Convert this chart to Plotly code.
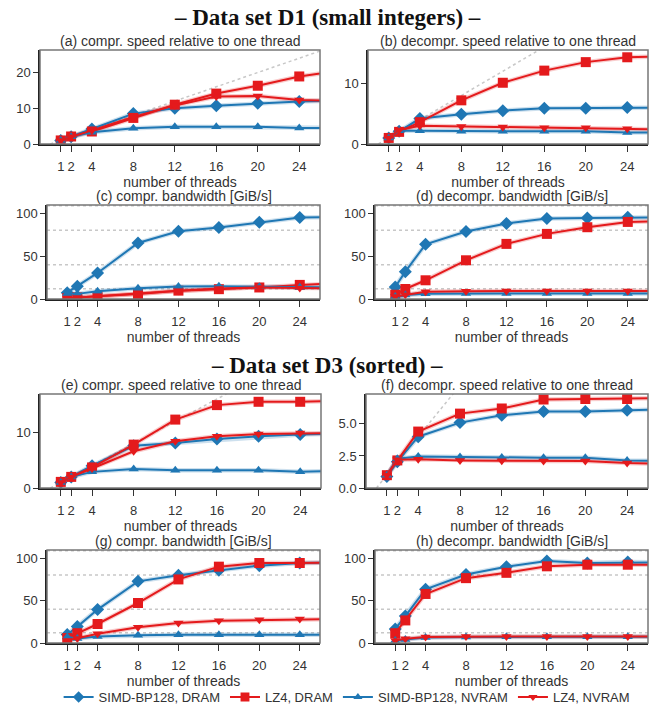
import plotly.graph_objects as go

# ---------------- data ----------------
threads = [1, 2, 4, 8, 12, 16, 20, 24, 28]
tick_threads = [1, 2, 4, 8, 12, 16, 20, 24]
series_names = ["SIMD-BP128, DRAM", "LZ4, DRAM", "SIMD-BP128, NVRAM", "LZ4, NVRAM"]

a_simd_dram = [1.0, 2.0, 4.2, 8.5, 10.0, 10.7, 11.4, 11.9, 12.1]
a_lz4_dram = [1.0, 2.1, 3.5, 7.3, 11.0, 14.1, 16.3, 18.9, 20.5]
a_simd_nvram = [1.0, 2.0, 3.3, 4.4, 4.8, 4.8, 4.8, 4.5, 4.5]
a_lz4_nvram = [1.0, 2.0, 3.8, 7.6, 10.8, 13.3, 13.4, 12.3, 12.1]

b_simd_dram = [1.0, 2.1, 4.2, 4.9, 5.5, 5.9, 5.9, 6.0, 6.0]
b_lz4_dram = [1.0, 2.0, 3.6, 7.2, 10.1, 12.1, 13.5, 14.3, 14.5]
b_simd_nvram = [1.0, 2.2, 2.2, 2.1, 2.1, 2.1, 2.1, 1.9, 1.9]
b_lz4_nvram = [1.0, 2.3, 3.0, 2.9, 2.8, 2.7, 2.7, 2.5, 2.4]

c_simd_dram = [7.4, 14.8, 30.5, 65.6, 79.3, 83.6, 89.8, 95.3, 96.0]
c_lz4_dram = [1.0, 2.0, 3.2, 5.8, 9.8, 11.5, 13.5, 16.5, 18.5]
c_simd_nvram = [6.5, 6.0, 9.0, 12.5, 14.5, 14.8, 14.2, 13.8, 13.5]
c_lz4_nvram = [1.0, 1.8, 3.5, 6.5, 9.8, 12.3, 13.5, 12.8, 12.5]

d_simd_dram = [14.0, 32.0, 64.0, 79.0, 88.3, 94.1, 94.9, 95.7, 95.7]
d_lz4_dram = [5.0, 11.7, 21.9, 45.3, 64.5, 76.2, 84.0, 90.2, 91.0]
d_simd_nvram = [3.0, 4.7, 6.0, 6.5, 6.5, 6.5, 6.5, 6.5, 6.5]
d_lz4_nvram = [3.0, 5.0, 8.5, 9.2, 9.3, 9.3, 9.3, 9.3, 9.3]

e_simd_dram = [1.0, 2.0, 4.0, 7.6, 8.1, 8.8, 9.3, 9.6, 9.8]
e_lz4_dram = [1.1, 2.0, 3.7, 7.8, 12.3, 14.9, 15.5, 15.5, 15.7]
e_simd_nvram = [1.0, 2.0, 2.9, 3.4, 3.2, 3.2, 3.2, 2.9, 3.1]
e_lz4_nvram = [1.0, 2.0, 3.5, 6.6, 8.4, 9.3, 9.7, 9.9, 9.9]

f_simd_dram = [0.9, 2.05, 4.0, 5.1, 5.67, 5.96, 5.96, 6.06, 6.14]
f_lz4_dram = [1.0, 2.15, 4.4, 5.8, 6.2, 6.9, 6.94, 6.94, 7.02]
f_simd_nvram = [1.0, 2.28, 2.46, 2.41, 2.38, 2.36, 2.36, 2.15, 2.1]
f_lz4_nvram = [1.0, 2.2, 2.25, 2.15, 2.12, 2.1, 2.1, 1.94, 1.88]

g_simd_dram = [10.0, 19.4, 39.5, 72.9, 80.2, 86.0, 91.5, 94.6, 95.4]
g_lz4_dram = [5.8, 11.6, 22.5, 47.3, 75.2, 90.3, 94.6, 94.6, 95.0]
g_simd_nvram = [7.0, 5.4, 7.8, 9.3, 9.7, 9.7, 9.7, 9.7, 9.7]
g_lz4_nvram = [3.0, 5.4, 10.9, 18.6, 23.6, 26.4, 27.5, 28.3, 28.3]

h_simd_dram = [16.7, 31.8, 63.6, 81.0, 90.3, 96.9, 94.6, 95.7, 95.3]
h_lz4_dram = [11.6, 26.7, 58.0, 76.7, 83.0, 90.7, 92.6, 92.6, 92.6]
h_simd_nvram = [3.0, 4.0, 6.6, 7.0, 7.4, 7.4, 7.4, 7.4, 7.4]
h_lz4_nvram = [3.0, 5.0, 7.0, 7.8, 7.8, 7.8, 7.8, 7.8, 7.8]

ideal_threads = [0, 28]           # linear speed-up reference
bandwidth_limits = [12, 40, 80.5, 109]

panel_titles = [
    "(a) compr. speed relative to one thread",
    "(b) decompr. speed relative to one thread",
    "(c) compr. bandwidth [GiB/s]",
    "(d) decompr. bandwidth [GiB/s]",
    "(e) compr. speed relative to one thread",
    "(f) decompr. speed relative to one thread",
    "(g) compr. bandwidth [GiB/s]",
    "(h) decompr. bandwidth [GiB/s]",
]
section_titles = ["– Data set D1 (small integers) –", "– Data set D3 (sorted) –"]

panel_data = [
    [a_simd_dram, a_lz4_dram, a_simd_nvram, a_lz4_nvram],
    [b_simd_dram, b_lz4_dram, b_simd_nvram, b_lz4_nvram],
    [c_simd_dram, c_lz4_dram, c_simd_nvram, c_lz4_nvram],
    [d_simd_dram, d_lz4_dram, d_simd_nvram, d_lz4_nvram],
    [e_simd_dram, e_lz4_dram, e_simd_nvram, e_lz4_nvram],
    [f_simd_dram, f_lz4_dram, f_simd_nvram, f_lz4_nvram],
    [g_simd_dram, g_lz4_dram, g_simd_nvram, g_lz4_nvram],
    [h_simd_dram, h_lz4_dram, h_simd_nvram, h_lz4_nvram],
]
panel_kind = ["speed", "speed", "bw", "bw", "speed", "speed", "bw", "bw"]
y_ranges = [[0, 26.3], [0, 15.5], [0, 110], [0, 110],
            [0, 16.9], [0, 7.33], [0, 110], [0, 110]]
y_ticks = [[0, 10, 20], [0, 10], [0, 50, 100], [0, 50, 100],
           [0, 10], [0, 2.5, 5.0], [0, 50, 100], [0, 50, 100]]
y_ticktext = [None, None, None, None, None, ["0.0", "2.5", "5.0"], None, None]

# ---------------- layout geometry (pixels) ----------------
W, H = 654, 706
# left, right, top, bottom
boxes = [
    (40, 320, 50, 144), (368, 648, 50, 144),
    (47, 320, 205, 299), (375, 648, 205, 299),
    (40, 321, 394, 488), (366, 648, 394, 488),
    (47, 320, 550, 643), (375, 648, 550, 643),
]

BLUE = "#1f77b4"
RED = "#e41a1c"
colors = [BLUE, RED, BLUE, RED]
symbols = ["diamond", "square", "triangle-up", "triangle-down"]
msizes = [10, 10, 9, 9]
FONT = "Liberation Sans"
TXT = "#333333"

fig = go.Figure()
shapes = []
annotations = []


def axnames(i):
    ax = "" if i == 0 else str(i + 1)
    return ax, "x" + ax, "y" + ax


# reference lines and halos first (below everything)
for i in range(8):
    ax, xref, yref = axnames(i)
    if panel_kind[i] == "speed":
        fig.add_trace(go.Scatter(
            x=ideal_threads, y=ideal_threads, mode="lines",
            line=dict(color="#c8c8c8", width=1.5, dash="dot"),
            showlegend=False, hoverinfo="skip", xaxis=xref, yaxis=yref))
    else:
        for lim in bandwidth_limits:
            shapes.append(dict(type="line", xref=xref + " domain", yref=yref,
                               x0=0, x1=1, y0=lim, y1=lim,
                               line=dict(color="#c8c8c8", width=1.5, dash="dot"),
                               layer="below"))
    for s in range(4):
        fig.add_trace(go.Scatter(
            x=threads, y=panel_data[i][s], mode="lines",
            line=dict(color=colors[s], width=4.5), opacity=0.22,
            showlegend=False, hoverinfo="skip", xaxis=xref, yaxis=yref))

for i in range(8):
    ax, xref, yref = axnames(i)
    L, R, T, B = boxes[i]
    xd = [L / W, R / W]
    yd = [1 - B / H, 1 - T / H]

    for s in range(4):
        vals = panel_data[i][s]
        sizes = [msizes[s] if t in tick_threads else 0 for t in threads]
        fig.add_trace(go.Scatter(
            x=threads, y=vals, mode="lines+markers",
            name=series_names[s],
            line=dict(color=colors[s], width=2),
            marker=dict(symbol=symbols[s], size=sizes, color=colors[s],
                        opacity=1, line=dict(width=0)),
            legendgroup=series_names[s], showlegend=(i == 0),
            xaxis=xref, yaxis=yref))

    # frame (grey top/right)
    shapes.append(dict(type="rect", xref=xref + " domain", yref=yref + " domain",
                       x0=0, x1=1, y0=0, y1=1,
                       line=dict(color="#777777", width=1.5), layer="above"))

    fig.layout["xaxis" + ax] = dict(
        domain=xd, anchor=yref, range=[-1, 26],
        tickmode="array", tickvals=tick_threads,
        ticks="outside", ticklen=6, tickcolor="#333333", tickwidth=1,
        ticklabelstandoff=4,
        showline=True, linecolor="#222222", linewidth=1.5, mirror=False,
        showgrid=False, zeroline=False,
        tickfont=dict(family=FONT, size=13, color=TXT),
        title=dict(text="number of threads", standoff=0,
                   font=dict(family=FONT, size=14, color=TXT)),
    )
    yaxis = dict(
        domain=yd, anchor=xref, range=y_ranges[i],
        tickmode="array", tickvals=y_ticks[i],
        ticks="outside", ticklen=5, tickcolor="#333333", tickwidth=1,
        showline=True, linecolor="#222222", linewidth=1.5, mirror=False,
        showgrid=False, zeroline=False,
        tickfont=dict(family=FONT, size=13, color=TXT),
    )
    if y_ticktext[i]:
        yaxis["ticktext"] = y_ticktext[i]
    fig.layout["yaxis" + ax] = yaxis

    annotations.append(dict(
        text=panel_titles[i], xref="paper", yref="paper",
        x=(L + R) / 2 / W, y=1 - (T - 9) / H, xanchor="center", yanchor="middle",
        showarrow=False, font=dict(family=FONT, size=14, color=TXT)))

for txt, ypx in zip(section_titles, [17, 365]):
    annotations.append(dict(
        text="<b>" + txt + "</b>", xref="paper", yref="paper",
        x=0.5, y=1 - ypx / H, xanchor="center", yanchor="middle",
        showarrow=False,
        font=dict(family="Liberation Serif", size=23, color="#111111")))

fig.update_layout(
    width=W, height=H,
    margin=dict(l=0, r=0, t=0, b=0, autoexpand=False),
    paper_bgcolor="white", plot_bgcolor="white",
    shapes=shapes, annotations=annotations,
    legend=dict(orientation="h", x=0.53, xanchor="center",
                y=1 - 697 / H, yanchor="middle",
                font=dict(family=FONT, size=13, color=TXT),
                tracegroupgap=0, bgcolor="rgba(0,0,0,0)"),
    showlegend=True,
)

fig.write_html(
    "out.html",
    config={"displayModeBar": False},
    post_script="document.body.style.margin='0';document.body.style.overflow='hidden';",
)
